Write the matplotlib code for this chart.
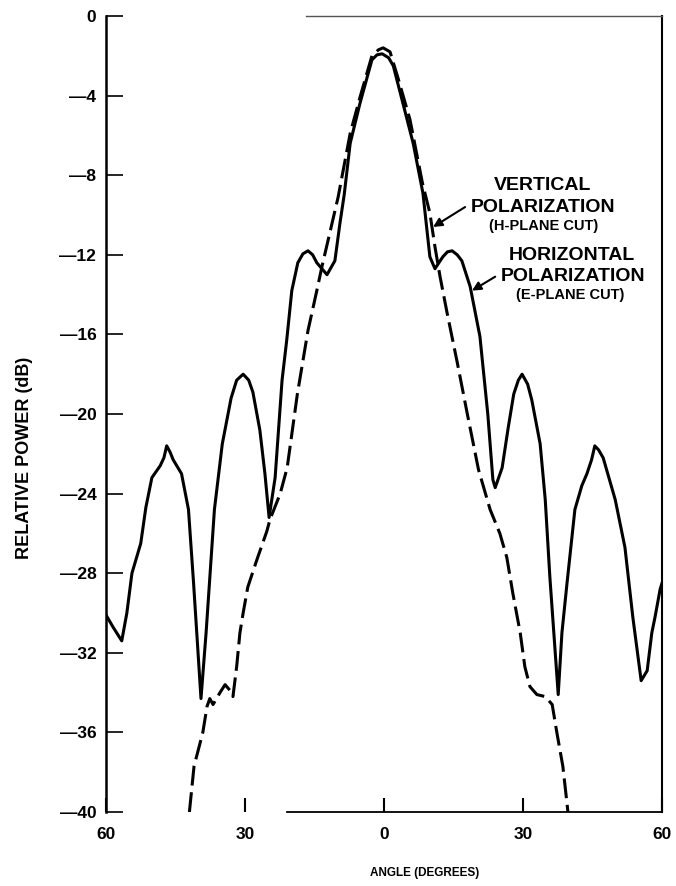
import numpy as np
import matplotlib.pyplot as plt

# E-plane cut (horizontal polarization), solid trace
e_angle = [-60, -58.5, -56.6, -55.5, -54.4, -52.5, -51.4, -50.1, -48.3, -47.5,
           -46.9, -46.2, -45.5, -43.7, -42.2, -41.1, -39.5, -38.4, -36.6, -34.9,
           -33.0, -31.8, -30.4, -29.2, -28.3, -26.8, -25.7, -24.8, -23.5, -22.0,
           -21.0, -19.9, -18.6, -17.5, -16.4, -15.4, -14.5, -12.3, -10.6, -9.5,
           -8.6, -7.3, -5.2, -2.6, -1.5, -0.4, 1.0, 2.0, 4.1, 6.3,
           8.4, 9.9, 11.0, 12.7, 13.7, 14.7, 15.8, 16.8, 18.6, 20.7,
           22.4, 23.5, 24.0, 25.5, 26.8, 28.0, 29.0, 29.8, 31.0, 31.9,
           33.7, 34.8, 35.8, 37.6, 38.4, 39.5, 41.2, 42.7, 43.8, 44.8,
           45.5, 46.3, 47.3, 49.9, 52.0, 53.7, 55.5, 56.8, 57.8, 58.5,
           59.6, 60]
e_power = [-30.1, -30.7, -31.4, -30.0, -28.0, -26.5, -24.7, -23.2, -22.6, -22.2,
           -21.6, -21.9, -22.3, -23.0, -24.8, -28.5, -34.3, -31.0, -24.8, -21.5,
           -19.2, -18.3, -18.0, -18.3, -18.9, -20.8, -23.0, -25.2, -23.2, -18.3,
           -16.3, -13.8, -12.4, -11.95, -11.8, -12.0, -12.4, -13.0, -12.3, -10.4,
           -9.0, -6.4, -4.4, -2.2, -1.95, -1.9, -2.1, -2.5, -4.4, -6.4,
           -8.9, -12.1, -12.7, -12.1, -11.85, -11.8, -12.0, -12.3, -13.6, -16.1,
           -20.0, -23.3, -23.7, -22.7, -20.7, -19.0, -18.3, -18.0, -18.5, -19.3,
           -21.5, -24.3, -28.2, -34.1, -31.0, -28.5, -24.8, -23.6, -23.0, -22.3,
           -21.6, -21.8, -22.2, -24.3, -26.7, -30.2, -33.4, -32.9, -31.0, -30.2,
           -28.8, -28.5]

# H-plane cut (vertical polarization), dashed trace
h_angle = [-42.0, -41.0, -39.1, -38.2, -37.6, -36.9, -35.4, -34.3, -33.2, -32.6,
           -31.8, -31.1, -30.4, -29.4, -27.4, -25.3, -24.6, -22.4, -20.9, -18.7,
           -16.4, -14.5, -13.4, -12.1, -9.9, -7.3, -5.2, -2.6, -1.2, -0.2,
           1.3, 3.0, 5.6, 8.3, 9.9, 11.0, 12.1, 13.6, 15.8, 17.9,
           20.4, 22.9, 25.0, 26.5, 27.8, 29.4, 30.4, 31.5, 33.0, 34.8,
           36.3, 37.3, 38.6, 39.7]
h_power = [-40.0, -37.7, -36.0, -34.7, -34.3, -34.6, -34.0, -33.6, -33.9, -34.2,
           -32.7, -31.0, -30.0, -28.7, -27.3, -25.9, -25.3, -24.0, -22.7, -19.0,
           -15.8, -13.8, -12.6, -11.3, -9.1, -5.9, -4.1, -2.0, -1.7, -1.6,
           -1.8, -3.1, -5.2, -8.4, -9.9, -11.6, -13.1, -14.9, -17.4, -19.9,
           -22.8, -24.8, -26.0, -27.2, -29.0, -31.0, -32.7, -33.7, -34.1, -34.2,
           -34.6, -36.0, -37.7, -40.0]

x_ticks = [-60, -30, 0, 30, 60]
x_ticklabels = ['60', '30', '0', '30', '60']
y_ticks = list(range(-40, 1, 4))
y_ticklabels = ['\u201440', '\u201436', '\u201432', '\u201428', '\u201424', '\u201420',
                '\u201416', '\u201412', '\u20148', '\u20144', '0']

plt.rcParams['font.family'] = ['Liberation Sans', 'DejaVu Sans']
plt.rcParams['font.weight'] = 'bold'

fig = plt.figure(figsize=(6.76, 8.86), dpi=100)
ax = fig.add_axes([106/676, 1 - 812/886, 556/676, 796/886])

ax.plot(e_angle, e_power, color='black', lw=2.2, solid_joinstyle='round')
ax.plot(h_angle, h_power, color='black', lw=2.2, linestyle=(0, (6.5, 2.2)))

ax.set_xlim(-60, 60)
ax.set_ylim(-40, 0)

ax.set_xticks(x_ticks)
ax.set_xticklabels(x_ticklabels)
ax.set_yticks(y_ticks)
ax.set_yticklabels(y_ticklabels)
ax.tick_params(axis='y', direction='in', length=12, width=1.2, pad=7, labelsize=12.5)
ax.tick_params(axis='x', direction='in', length=10, width=1.5, pad=11, labelsize=12.5)
for lbl in ax.get_xticklabels() + ax.get_yticklabels():
  lbl.set_fontweight('bold')

ax.spines['left'].set_linewidth(1.8)
ax.spines['right'].set_linewidth(1.5)
ax.spines['top'].set_linewidth(1.0)
ax.spines['top'].set_color('#555555')
ax.spines['top'].set_bounds(-16.8, 60)
ax.spines['bottom'].set_linewidth(1.3)
ax.spines['bottom'].set_bounds(-20.9, 60)

fig.text(25/676, 1 - 458/886, 'RELATIVE POWER (dB)', rotation=90,
         ha='center', va='center', fontsize=13, fontweight='bold')
fig.text(425/676, 1 - 873/886, 'ANGLE (DEGREES)', ha='center', va='center',
         fontsize=8.5, fontweight='bold')

# curve labels
ax.text(34.3, -8.5, 'VERTICAL', ha='center', va='center', fontsize=14, fontweight='bold')
ax.text(34.3, -9.6, 'POLARIZATION', ha='center', va='center', fontsize=14, fontweight='bold')
ax.text(34.5, -10.55, '(H-PLANE CUT)', ha='center', va='center', fontsize=10.5, fontweight='bold')
ax.text(40.6, -12.06, 'HORIZONTAL', ha='center', va='center', fontsize=14, fontweight='bold')
ax.text(40.8, -13.1, 'POLARIZATION', ha='center', va='center', fontsize=14, fontweight='bold')
ax.text(40.1, -14.0, '(E-PLANE CUT)', ha='center', va='center', fontsize=10.5, fontweight='bold')

arrow = dict(arrowstyle='-|>', color='black', lw=1.5, mutation_scale=13, shrinkA=0, shrinkB=0)
ax.annotate('', xy=(10.6, -10.6), xytext=(17.5, -9.6), arrowprops=arrow)
ax.annotate('', xy=(19.0, -13.8), xytext=(24.0, -13.1), arrowprops=arrow)

fig.savefig('out.png', dpi=100)
